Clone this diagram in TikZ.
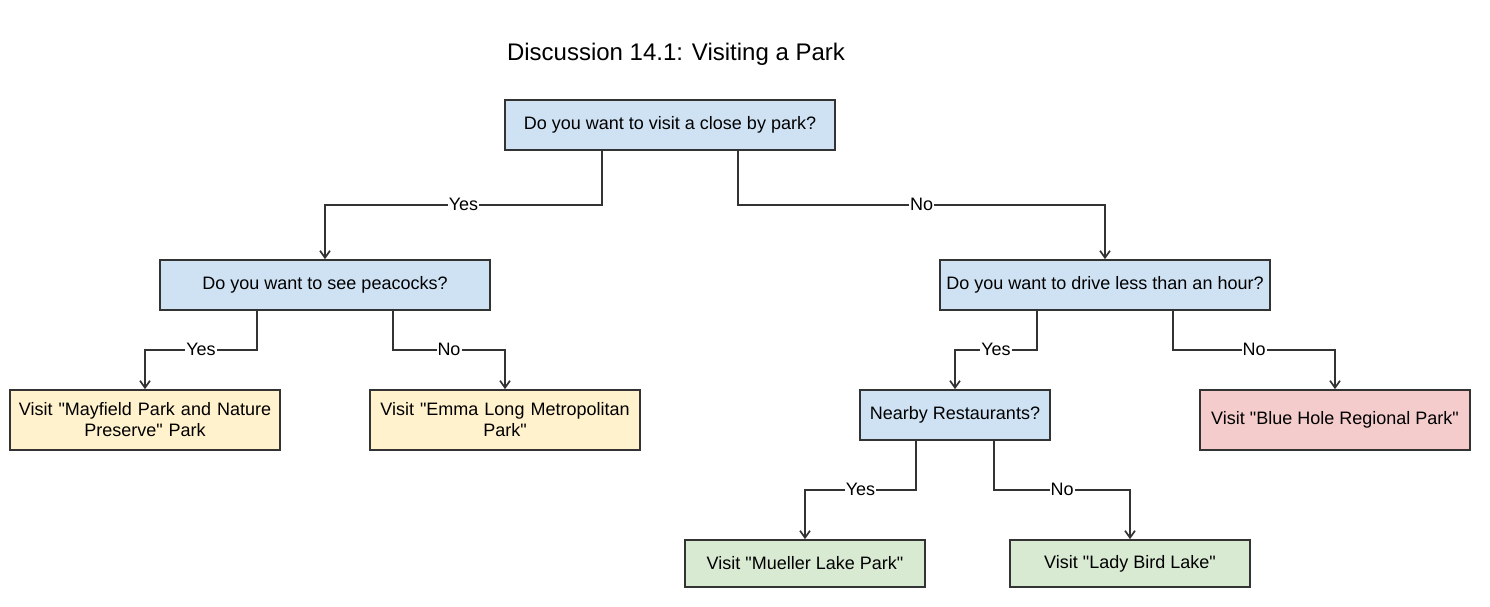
\documentclass[tikz,border=0pt]{standalone}
\usepackage{fontspec}
\setmainfont{Liberation Sans}[Ligatures=TeXOff]
\usetikzlibrary{arrows.meta}
\definecolor{qblue}{HTML}{CFE2F3}
\definecolor{ayellow}{HTML}{FFF2CC}
\definecolor{ared}{HTML}{F4CCCC}
\definecolor{agreen}{HTML}{D9EAD3}
\definecolor{edgec}{HTML}{333333}
\tikzset{
  box/.style={draw=edgec, line width=1.7pt, inner sep=0pt, align=center,
    font=\fontsize{18}{21}\selectfont},
  qbox/.style={box, fill=qblue},
  ybox/.style={box, fill=ayellow},
  rbox/.style={box, fill=ared},
  gbox/.style={box, fill=agreen},
  arr/.style={draw=edgec, line width=1.7pt,
    -{Straight Barb[length=7pt,width=10pt,line width=1.7pt]}},
  lbl/.style={fill=white, inner sep=1pt, font=\fontsize{18}{21}\selectfont}
}
\begin{document}
\begin{tikzpicture}[x=1pt,y=-1pt]
\useasboundingbox (0,0) rectangle (1490,606);
\node[font=\fontsize{24}{28}\selectfont] (title) at (676,54) {Discussion 14.1: Visiting a Park};
\node[qbox, minimum width=330pt, minimum height=50pt] (root) at (670,125) {Do you want to visit a close by park?};
\node[qbox, minimum width=330pt, minimum height=50pt] (peac) at (325,285) {Do you want to see peacocks?};
\node[qbox, minimum width=330pt, minimum height=50pt] (drive) at (1105,285) {Do you want to drive less than an hour?};
\node[ybox, minimum width=270pt, minimum height=60pt, text width=262pt] (may) at (145,420) {Visit "Mayfield Park and Nature\\Preserve" Park};
\node[ybox, minimum width=270pt, minimum height=60pt, text width=262pt] (emma) at (505,420) {Visit "Emma Long Metropolitan\\Park"};
\node[qbox, minimum width=190pt, minimum height=50pt] (rest) at (955,415) {Nearby Restaurants?};
\node[rbox, minimum width=270pt, minimum height=60pt] (blue) at (1335,420) {Visit "Blue Hole Regional Park"};
\node[gbox, minimum width=240pt, minimum height=47pt] (mue) at (805,563.5) {Visit "Mueller Lake Park"};
\node[gbox, minimum width=240pt, minimum height=47pt] (lady) at (1130,563.5) {Visit "Lady Bird Lake"};

\draw[arr] ([xshift=-68pt]root.south) -- ++(0,54) -| node[lbl,pos=0.25]{Yes} (peac.north);
\draw[arr] ([xshift=68pt]root.south) -- ++(0,54) -| node[lbl,pos=0.25]{No} (drive.north);
\draw[arr] ([xshift=-68pt]peac.south) -- ++(0,39) -| node[lbl,pos=0.25]{Yes} (may.north);
\draw[arr] ([xshift=68pt]peac.south) -- ++(0,39) -| node[lbl,pos=0.25]{No} (emma.north);
\draw[arr] ([xshift=-68pt]drive.south) -- ++(0,39) -| node[lbl,pos=0.25]{Yes} (rest.north);
\draw[arr] ([xshift=68pt]drive.south) -- ++(0,39) -| node[lbl,pos=0.25]{No} (blue.north);
\draw[arr] ([xshift=-39pt]rest.south) -- ++(0,49) -| node[lbl,pos=0.25]{Yes} (mue.north);
\draw[arr] ([xshift=39pt]rest.south) -- ++(0,49) -| node[lbl,pos=0.25]{No} (lady.north);
\end{tikzpicture}
\end{document}
